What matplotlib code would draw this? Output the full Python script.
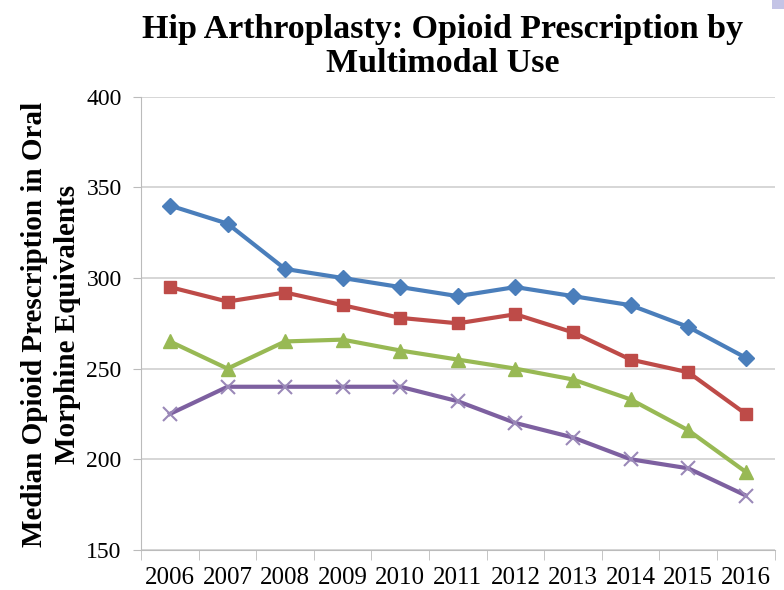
import matplotlib.pyplot as plt
from matplotlib.patches import Rectangle

years = ["2006", "2007", "2008", "2009", "2010", "2011", "2012", "2013", "2014", "2015", "2016"]
blue_vals = [340, 330, 305, 300, 295, 290, 295, 290, 285, 273, 256]
red_vals = [295, 287, 292, 285, 278, 275, 280, 270, 255, 248, 225]
green_vals = [265, 250, 265, 266, 260, 255, 250, 244, 233, 216, 193]
purple_vals = [225, 240, 240, 240, 240, 232, 220, 212, 200, 195, 180]

serif = ["Liberation Serif", "DejaVu Serif"]

fig = plt.figure(figsize=(7.84, 5.90), dpi=100)
ax = fig.add_axes([0.18, 0.068, 0.808, 0.768])

x = list(range(len(years)))
ax.plot(x, blue_vals, color="#4A7EBB", lw=3, marker="D", ms=8, zorder=3)
ax.plot(x, red_vals, color="#BE4B48", lw=3, marker="s", ms=9, zorder=3)
ax.plot(x, green_vals, color="#98B954", lw=3, marker="^", ms=10, zorder=3)
ax.plot(x, purple_vals, color="#7D60A0", lw=3, marker="x", ms=10, mew=1.5,
        mec="#9A88B8", zorder=3)

ax.set_xlim(-0.5, len(years) - 0.5)
ax.set_ylim(150, 400)
ax.set_yticks(range(150, 401, 50))
ax.set_xticks(x)
ax.set_xticklabels(years, fontfamily=serif, fontsize=18)
ax.set_xticks([i - 0.5 for i in range(len(years) + 1)], minor=True)
ax.tick_params(axis="x", which="major", length=0, pad=12)
ax.tick_params(axis="x", which="minor", length=7, color="#BBBBBB", direction="out")
ax.tick_params(axis="y", length=6, color="#BBBBBB", labelsize=17, pad=8)
for lab in ax.get_yticklabels():
    lab.set_fontfamily(serif)

ax.grid(axis="y", color="#CFCFCF", lw=1.2)
ax.set_axisbelow(True)
for side in ["top", "right"]:
    ax.spines[side].set_visible(False)
ax.spines["left"].set_color("#BBBBBB")
ax.spines["bottom"].set_color("#BBBBBB")

fig.text(0.565, 0.921, "Hip Arthroplasty: Opioid Prescription by\nMultimodal Use",
         ha="center", va="center", fontfamily=serif, fontweight="bold",
         fontsize=24.5, linespacing=1.15)
fig.text(0.065, 0.45, "Median Opioid Prescription in Oral\nMorphine Equivalents",
         ha="center", va="center", rotation=90, fontfamily=serif,
         fontweight="bold", fontsize=21, linespacing=1.25)

fig.patches.append(Rectangle((0.985, 0.985), 0.015, 0.015, transform=fig.transFigure,
                             facecolor="#C4C4E6", edgecolor="none"))

fig.savefig("out.png", dpi=100)
